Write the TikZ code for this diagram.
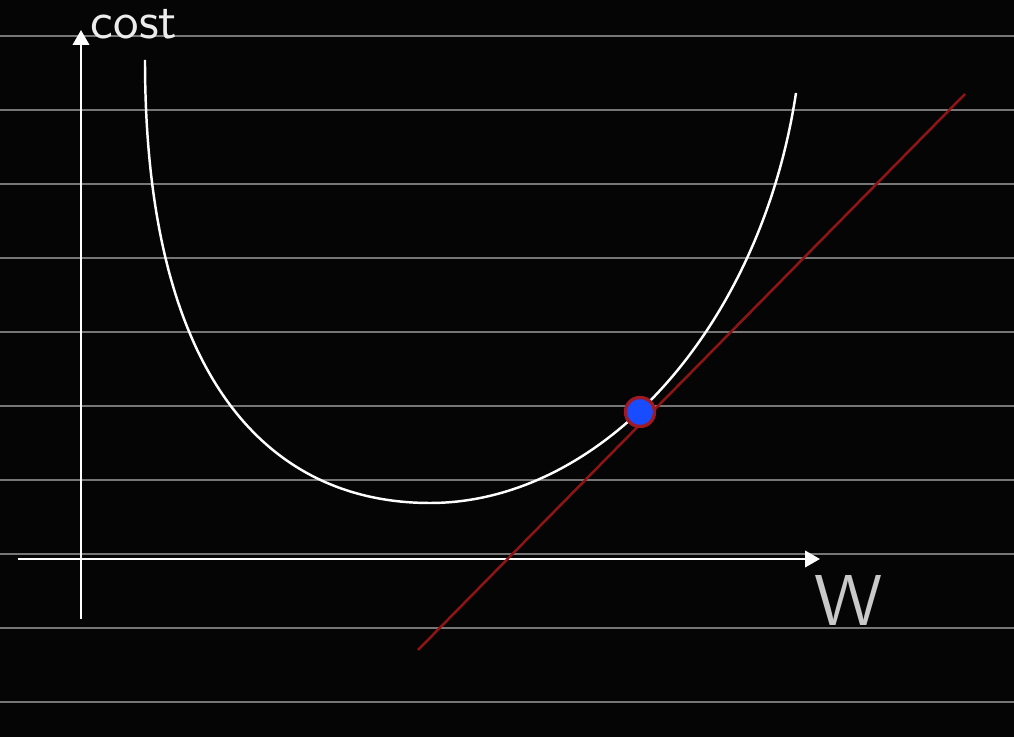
\documentclass[tikz,border=0pt]{standalone}
\usetikzlibrary{arrows.meta}

\definecolor{board}{RGB}{5,5,5}
\definecolor{ruling}{RGB}{118,118,118}
\definecolor{chalk}{RGB}{236,236,236}
\definecolor{tangentred}{RGB}{145,20,20}
\definecolor{dotblue}{RGB}{25,75,255}
\definecolor{dotrim}{RGB}{160,26,38}

\tikzset{%
  ruled line/.style={
    draw=ruling,
    line width=0.4pt
  },
  axis line/.style={
    draw=white,
    line width=0.75pt,
    -{Triangle[length=4.2pt,width=4.6pt]}
  },
  cost curve/.style={
    draw=white,
    line width=0.7pt
  },
  tangent line/.style={
    draw=tangentred,
    line width=0.7pt
  },
  point/.style={
    circle,
    fill=dotblue,
    draw=dotrim,
    line width=0.95pt,
    minimum size=0.29cm,
    inner sep=0pt
  },
  hand label/.style={
    text=chalk,
    font=\sffamily,
    inner sep=0pt
  },
}

\begin{document}
\begin{tikzpicture}[x=0.01cm, y=-0.01cm]
\fill[board] (0,0) rectangle (1014,737);
\useasboundingbox (0,0) rectangle (1014,737);
% ruled paper
\foreach \y in {36,110,...,702}
  \draw[ruled line] (0,\y) -- (1014,\y);

% axes
\coordinate (ybottom) at (81,619);
\coordinate (ytop) at (81,30);
\coordinate (xleft) at (18,559);
\coordinate (xright) at (820,559);
\draw[axis line] (ybottom) -- (ytop);
\draw[axis line] (xleft) -- (xright);
\node[hand label, scale=1.45] (costlabel) at (134,24) {cost};
\node[hand label, scale=2.05, text=chalk!85!black] (wlabel) at (849,600) {W};

% cost curve
\coordinate (curvestart) at (145,60);
\coordinate (curvemin) at (430,503);
\coordinate (curveend) at (796,93);
\draw[cost curve] (curvestart) .. controls (145,380) and (270,503) .. (curvemin)
  .. controls (600,503) and (760,330) .. (curveend);

% tangent at the current weight
\coordinate (tanlow) at (418,650);
\coordinate (tanhigh) at (965,94);
\draw[tangent line] (tanlow) -- (tanhigh);
\node[point] (current) at (640,412) {};
\end{tikzpicture}
\end{document}
